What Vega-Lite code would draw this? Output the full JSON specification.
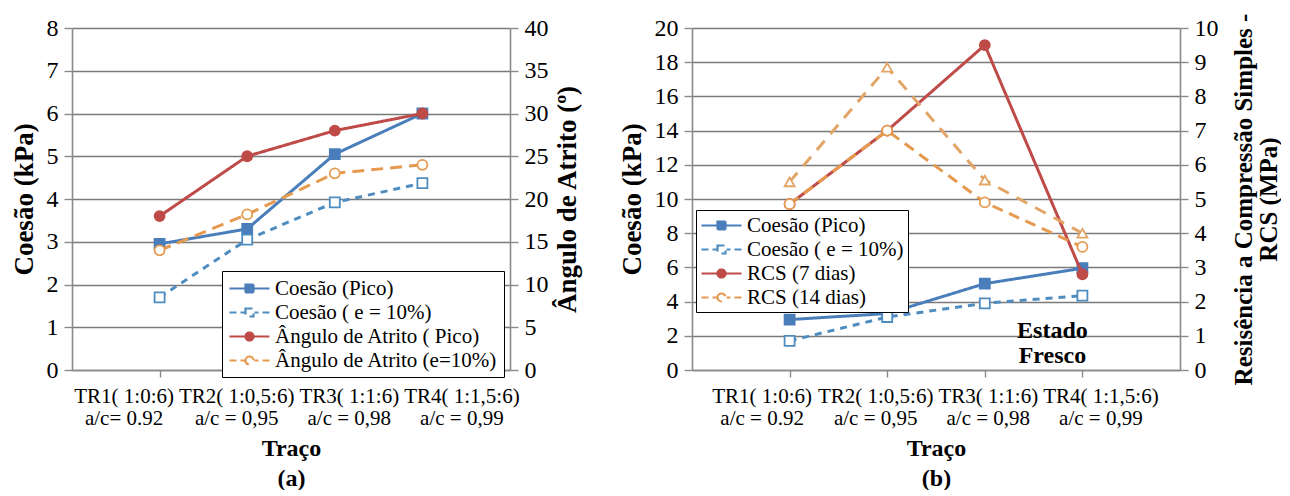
{
  "$schema": "https://vega.github.io/schema/vega-lite/v6.json",
  "padding": {"left": 10, "top": 13, "right": 0, "bottom": 0},
  "background": "white",
  "config": {
    "font": "Liberation Serif",
    "view": {"stroke": null},
    "axis": {"labelColor": "black", "titleColor": "black", "domainColor": "#8a8a8a", "tickColor": "#8a8a8a", "domainWidth": 1.6, "tickWidth": 1.4, "labelFont": "Liberation Serif", "titleFont": "Liberation Serif"},
    "axisY": {"labelFont": "Liberation Serif", "titleFont": "Liberation Serif"},
    "legend": {"labelFont": "Liberation Serif", "labelColor": "black"},
    "text": {"font": "Liberation Serif"}
  },
  "spacing": 38,
  "resolve": {"scale": {"color": "independent", "fill": "independent", "shape": "independent", "strokeDash": "independent"}, "legend": {"color": "independent", "fill": "independent", "shape": "independent"}},
  "hconcat": [
    {
      "width": 438,
      "height": 342,
      "data": {"values": [
        {"traco": "TR1( 1:0:6)|a/c= 0.92", "serie": "Coesão (Pico)", "eixo": "L", "valor": 2.95},
        {"traco": "TR2( 1:0,5:6)|a/c = 0,95", "serie": "Coesão (Pico)", "eixo": "L", "valor": 3.3},
        {"traco": "TR3( 1:1:6)|a/c = 0,98", "serie": "Coesão (Pico)", "eixo": "L", "valor": 5.05},
        {"traco": "TR4( 1:1,5:6)|a/c = 0,99", "serie": "Coesão (Pico)", "eixo": "L", "valor": 6.0},
        {"traco": "TR1( 1:0:6)|a/c= 0.92", "serie": "Coesão ( e = 10%)", "eixo": "L", "valor": 1.7},
        {"traco": "TR2( 1:0,5:6)|a/c = 0,95", "serie": "Coesão ( e = 10%)", "eixo": "L", "valor": 3.05},
        {"traco": "TR3( 1:1:6)|a/c = 0,98", "serie": "Coesão ( e = 10%)", "eixo": "L", "valor": 3.92},
        {"traco": "TR4( 1:1,5:6)|a/c = 0,99", "serie": "Coesão ( e = 10%)", "eixo": "L", "valor": 4.37},
        {"traco": "TR1( 1:0:6)|a/c= 0.92", "serie": "Ângulo de Atrito ( Pico)", "eixo": "R", "valor": 18},
        {"traco": "TR2( 1:0,5:6)|a/c = 0,95", "serie": "Ângulo de Atrito ( Pico)", "eixo": "R", "valor": 25},
        {"traco": "TR3( 1:1:6)|a/c = 0,98", "serie": "Ângulo de Atrito ( Pico)", "eixo": "R", "valor": 28},
        {"traco": "TR4( 1:1,5:6)|a/c = 0,99", "serie": "Ângulo de Atrito ( Pico)", "eixo": "R", "valor": 30},
        {"traco": "TR1( 1:0:6)|a/c= 0.92", "serie": "Ângulo de Atrito (e=10%)", "eixo": "R", "valor": 14},
        {"traco": "TR2( 1:0,5:6)|a/c = 0,95", "serie": "Ângulo de Atrito (e=10%)", "eixo": "R", "valor": 18.2},
        {"traco": "TR3( 1:1:6)|a/c = 0,98", "serie": "Ângulo de Atrito (e=10%)", "eixo": "R", "valor": 23},
        {"traco": "TR4( 1:1,5:6)|a/c = 0,99", "serie": "Ângulo de Atrito (e=10%)", "eixo": "R", "valor": 24}
      ]},
      "encoding": {
        "x": {"field": "traco", "type": "nominal", "sort": null, "scale": {"type": "point", "padding": 1},
          "axis": {"labelExpr": "split(datum.label, '|')", "labelFont": "Liberation Serif", "labelFontSize": 21, "labelLineHeight": 22, "labelAngle": 0, "labelPadding": 8, "labelOverlap": false, "labelLimit": 0, "tickSize": 7,
            "labelOffset": {"condition": [{"test": "indexof(datum.value, 'TR1') == 0", "value": -36}, {"test": "indexof(datum.value, 'TR2') == 0", "value": -11}, {"test": "indexof(datum.value, 'TR3') == 0", "value": 14}], "value": 39},
            "title": ["Traço", "(a)"], "titleFont": "Liberation Serif", "titleFontSize": 24, "titleFontWeight": "bold", "titleLineHeight": 30, "titlePadding": 8, "grid": false}}
      },
      "layer": [
        {
          "transform": [{"filter": "datum.eixo == 'legenda'"}],
          "mark": {"type": "point", "filled": false, "strokeWidth": 2.2, "opacity": 1},
          "encoding": {
            "color": {"field": "serie", "type": "nominal",
              "scale": {"domain": ["Coesão (Pico)", "Coesão ( e = 10%)", "Ângulo de Atrito ( Pico)", "Ângulo de Atrito (e=10%)"], "range": ["#4a7ebb", "#4f8cc0", "#be4b48", "#e69a4f"]},
              "legend": {"orient": "none", "legendX": 150, "legendY": 243, "title": null, "direction": "vertical", "strokeColor": "black", "fillColor": "white", "padding": 6, "labelFont": "Liberation Serif", "labelFontSize": 21, "labelOffset": 24, "labelLimit": 400, "rowPadding": 2, "symbolSize": 400, "symbolStrokeWidth": 2.2, "symbolOpacity": 1}},
            "shape": {"field": "serie", "type": "nominal",
              "scale": {"domain": ["Coesão (Pico)", "Coesão ( e = 10%)", "Ângulo de Atrito ( Pico)", "Ângulo de Atrito (e=10%)"], "range": ["M-1,0H3M0.6,-0.4H1.4V0.4H0.6Z", "M-1,0H-0.3M0.1,0H0.5M1.5,0H1.9M2.3,0H3M0.6,-0.4H1.4V0.4H0.6Z", "M-1,0H3M0.6,0A0.4,0.4,0,1,1,1.4,0A0.4,0.4,0,1,1,0.6,0Z", "M-1,0H-0.3M0.1,0H0.5M1.5,0H1.9M2.3,0H3M0.6,0A0.4,0.4,0,1,1,1.4,0A0.4,0.4,0,1,1,0.6,0Z"]},
              "legend": {"orient": "none", "legendX": 150, "legendY": 243, "title": null, "direction": "vertical", "strokeColor": "black", "fillColor": "white", "padding": 6, "labelFont": "Liberation Serif", "labelFontSize": 21, "labelOffset": 24, "labelLimit": 400, "rowPadding": 2, "symbolSize": 400, "symbolStrokeWidth": 2.2, "symbolOpacity": 1}},
            "fill": {"field": "serie", "type": "nominal",
              "scale": {"domain": ["Coesão (Pico)", "Coesão ( e = 10%)", "Ângulo de Atrito ( Pico)", "Ângulo de Atrito (e=10%)"], "range": ["#4a7ebb", "white", "#be4b48", "white"]},
              "legend": {"orient": "none", "legendX": 150, "legendY": 243, "title": null, "direction": "vertical", "strokeColor": "black", "fillColor": "white", "padding": 6, "labelFont": "Liberation Serif", "labelFontSize": 21, "labelOffset": 24, "labelLimit": 400, "rowPadding": 2, "symbolSize": 400, "symbolStrokeWidth": 2.2, "symbolOpacity": 1}}
          }
        },
        {
          "transform": [{"filter": "datum.eixo == 'L'"}],
          "encoding": {"y": {"field": "valor", "type": "quantitative", "scale": {"domain": [0, 8], "nice": false},
            "axis": {"orient": "left", "values": [0, 1, 2, 3, 4, 5, 6, 7, 8], "title": "Coesão (kPa)", "grid": true, "gridColor": "#7a7a7a", "gridWidth": 1.5, "tickSize": 8, "labelFont": "Liberation Serif", "labelFontSize": 24, "labelPadding": 6, "titleFont": "Liberation Serif", "titleFontSize": 27, "titleFontWeight": "bold", "titlePadding": 8}}},
          "layer": [
            {"mark": {"type": "line", "strokeWidth": 3},
             "encoding": {
               "color": {"field": "serie", "type": "nominal", "legend": null,
                 "scale": {"domain": ["Coesão (Pico)", "Coesão ( e = 10%)", "Ângulo de Atrito ( Pico)", "Ângulo de Atrito (e=10%)"], "range": ["#4a7ebb", "#4f8cc0", "#be4b48", "#e69a4f"]}},
               "strokeDash": {"field": "serie", "type": "nominal", "legend": null,
                 "scale": {"domain": ["Coesão (Pico)", "Coesão ( e = 10%)", "Ângulo de Atrito ( Pico)", "Ângulo de Atrito (e=10%)"], "range": [[1, 0], [7, 6], [1, 0], [12, 7]]}}
             }},
            {"mark": {"type": "point", "shape": "square", "size": 100, "filled": false, "strokeWidth": 1.8, "opacity": 1},
             "encoding": {
               "color": {"field": "serie", "type": "nominal", "legend": null, "scale": {"domain": ["Coesão (Pico)", "Coesão ( e = 10%)", "Ângulo de Atrito ( Pico)", "Ângulo de Atrito (e=10%)"], "range": ["#4a7ebb", "#4f8cc0", "#be4b48", "#e69a4f"]}},
               "fill": {"field": "serie", "type": "nominal", "legend": null, "scale": {"domain": ["Coesão (Pico)", "Coesão ( e = 10%)", "Ângulo de Atrito ( Pico)", "Ângulo de Atrito (e=10%)"], "range": ["#4a7ebb", "white", "#be4b48", "white"]}}
             }}
          ]
        },
        {
          "transform": [{"filter": "datum.eixo == 'R'"}],
          "encoding": {"y": {"field": "valor", "type": "quantitative", "scale": {"domain": [0, 40], "nice": false},
            "axis": {"orient": "right", "values": [0, 5, 10, 15, 20, 25, 30, 35, 40], "title": "Ângulo de Atrito (º)", "titleAngle": 270, "titleBaseline": "top", "grid": false, "tickSize": 8, "labelFont": "Liberation Serif", "labelFontSize": 24, "labelPadding": 6, "titleFont": "Liberation Serif", "titleFontSize": 27, "titleFontWeight": "bold", "titlePadding": 6}}},
          "layer": [
            {"mark": {"type": "line", "strokeWidth": 3},
             "encoding": {
               "color": {"field": "serie", "type": "nominal", "legend": null,
                 "scale": {"domain": ["Coesão (Pico)", "Coesão ( e = 10%)", "Ângulo de Atrito ( Pico)", "Ângulo de Atrito (e=10%)"], "range": ["#4a7ebb", "#4f8cc0", "#be4b48", "#e69a4f"]}},
               "strokeDash": {"field": "serie", "type": "nominal", "legend": null,
                 "scale": {"domain": ["Coesão (Pico)", "Coesão ( e = 10%)", "Ângulo de Atrito ( Pico)", "Ângulo de Atrito (e=10%)"], "range": [[1, 0], [7, 6], [1, 0], [12, 7]]}}
             }},
            {"mark": {"type": "point", "shape": "circle", "size": 100, "filled": false, "strokeWidth": 1.8, "opacity": 1},
             "encoding": {
               "color": {"field": "serie", "type": "nominal", "legend": null, "scale": {"domain": ["Coesão (Pico)", "Coesão ( e = 10%)", "Ângulo de Atrito ( Pico)", "Ângulo de Atrito (e=10%)"], "range": ["#4a7ebb", "#4f8cc0", "#be4b48", "#e69a4f"]}},
               "fill": {"field": "serie", "type": "nominal", "legend": null, "scale": {"domain": ["Coesão (Pico)", "Coesão ( e = 10%)", "Ângulo de Atrito ( Pico)", "Ângulo de Atrito (e=10%)"], "range": ["#4a7ebb", "white", "#be4b48", "white"]}}
             }}
          ]
        }
      ],
      "resolve": {"scale": {"y": "independent"}}
    },
    {
      "width": 488,
      "height": 342,
      "data": {"values": [
        {"traco": "TR1( 1:0:6)|a/c = 0.92", "serie": "Coesão (Pico)", "eixo": "L", "valor": 2.95},
        {"traco": "TR2( 1:0,5:6)|a/c = 0,95", "serie": "Coesão (Pico)", "eixo": "L", "valor": 3.3},
        {"traco": "TR3( 1:1:6)|a/c = 0,98", "serie": "Coesão (Pico)", "eixo": "L", "valor": 5.05},
        {"traco": "TR4( 1:1,5:6)|a/c = 0,99", "serie": "Coesão (Pico)", "eixo": "L", "valor": 5.95},
        {"traco": "TR1( 1:0:6)|a/c = 0.92", "serie": "Coesão ( e = 10%)", "eixo": "L", "valor": 1.7},
        {"traco": "TR2( 1:0,5:6)|a/c = 0,95", "serie": "Coesão ( e = 10%)", "eixo": "L", "valor": 3.1},
        {"traco": "TR3( 1:1:6)|a/c = 0,98", "serie": "Coesão ( e = 10%)", "eixo": "L", "valor": 3.9},
        {"traco": "TR4( 1:1,5:6)|a/c = 0,99", "serie": "Coesão ( e = 10%)", "eixo": "L", "valor": 4.35},
        {"traco": "TR1( 1:0:6)|a/c = 0.92", "serie": "RCS (7 dias)", "eixo": "R", "valor": 4.85},
        {"traco": "TR2( 1:0,5:6)|a/c = 0,95", "serie": "RCS (7 dias)", "eixo": "R", "valor": 7.0},
        {"traco": "TR3( 1:1:6)|a/c = 0,98", "serie": "RCS (7 dias)", "eixo": "R", "valor": 9.5},
        {"traco": "TR4( 1:1,5:6)|a/c = 0,99", "serie": "RCS (7 dias)", "eixo": "R", "valor": 2.8},
        {"traco": "TR1( 1:0:6)|a/c = 0.92", "serie": "RCS (14 dias)", "eixo": "R", "valor": 4.85},
        {"traco": "TR2( 1:0,5:6)|a/c = 0,95", "serie": "RCS (14 dias)", "eixo": "R", "valor": 7.0},
        {"traco": "TR3( 1:1:6)|a/c = 0,98", "serie": "RCS (14 dias)", "eixo": "R", "valor": 4.9},
        {"traco": "TR4( 1:1,5:6)|a/c = 0,99", "serie": "RCS (14 dias)", "eixo": "R", "valor": 3.6},
        {"traco": "TR1( 1:0:6)|a/c = 0.92", "serie": "RCS (14 dias) b", "eixo": "R", "valor": 5.5},
        {"traco": "TR2( 1:0,5:6)|a/c = 0,95", "serie": "RCS (14 dias) b", "eixo": "R", "valor": 8.85},
        {"traco": "TR3( 1:1:6)|a/c = 0,98", "serie": "RCS (14 dias) b", "eixo": "R", "valor": 5.55},
        {"traco": "TR4( 1:1,5:6)|a/c = 0,99", "serie": "RCS (14 dias) b", "eixo": "R", "valor": 4.0},
        {"traco": "TR4( 1:1,5:6)|a/c = 0,99", "serie": "nota", "eixo": "T", "valor": 2.3, "rotulo": "Estado\nFresco"}
      ]},
      "encoding": {
        "x": {"field": "traco", "type": "nominal", "sort": null, "scale": {"type": "point", "padding": 1},
          "axis": {"labelExpr": "split(datum.label, '|')", "labelFont": "Liberation Serif", "labelFontSize": 21, "labelLineHeight": 22, "labelAngle": 0, "labelPadding": 8, "labelOverlap": false, "labelLimit": 0, "tickSize": 7,
            "labelOffset": {"condition": [{"test": "indexof(datum.value, 'TR1') == 0", "value": -28}, {"test": "indexof(datum.value, 'TR2') == 0", "value": -12}, {"test": "indexof(datum.value, 'TR3') == 0", "value": 3}], "value": 18},
            "title": ["Traço", "(b)"], "titleFont": "Liberation Serif", "titleFontSize": 24, "titleFontWeight": "bold", "titleLineHeight": 30, "titlePadding": 8, "grid": false}}
      },
      "layer": [
        {
          "transform": [{"filter": "datum.eixo == 'legenda'"}],
          "mark": {"type": "point", "filled": false, "strokeWidth": 2.2, "opacity": 1},
          "encoding": {
            "color": {"field": "serie", "type": "nominal",
              "scale": {"domain": ["Coesão (Pico)", "Coesão ( e = 10%)", "RCS (7 dias)", "RCS (14 dias)", "RCS (14 dias) b"], "range": ["#4a7ebb", "#4f8cc0", "#be4b48", "#e69a4f", "#e3a566"]},
              "legend": {"orient": "none", "legendX": 4, "legendY": 182, "title": null, "direction": "vertical", "values": ["Coesão (Pico)", "Coesão ( e = 10%)", "RCS (7 dias)", "RCS (14 dias)"], "strokeColor": "black", "fillColor": "white", "padding": 4, "labelFont": "Liberation Serif", "labelFontSize": 21, "labelOffset": 24, "labelLimit": 400, "rowPadding": 2, "symbolSize": 400, "symbolStrokeWidth": 2.2, "symbolOpacity": 1}},
            "shape": {"field": "serie", "type": "nominal",
              "scale": {"domain": ["Coesão (Pico)", "Coesão ( e = 10%)", "RCS (7 dias)", "RCS (14 dias)", "RCS (14 dias) b"], "range": ["M-1,0H3M0.6,-0.4H1.4V0.4H0.6Z", "M-1,0H-0.3M0.1,0H0.5M1.5,0H1.9M2.3,0H3M0.6,-0.4H1.4V0.4H0.6Z", "M-1,0H3M0.6,0A0.4,0.4,0,1,1,1.4,0A0.4,0.4,0,1,1,0.6,0Z", "M-1,0H-0.3M0.1,0H0.5M1.5,0H1.9M2.3,0H3M0.6,0A0.4,0.4,0,1,1,1.4,0A0.4,0.4,0,1,1,0.6,0Z", "triangle-up"]},
              "legend": {"orient": "none", "legendX": 4, "legendY": 182, "title": null, "direction": "vertical", "values": ["Coesão (Pico)", "Coesão ( e = 10%)", "RCS (7 dias)", "RCS (14 dias)"], "strokeColor": "black", "fillColor": "white", "padding": 4, "labelFont": "Liberation Serif", "labelFontSize": 21, "labelOffset": 24, "labelLimit": 400, "rowPadding": 2, "symbolSize": 400, "symbolStrokeWidth": 2.2, "symbolOpacity": 1}},
            "fill": {"field": "serie", "type": "nominal",
              "scale": {"domain": ["Coesão (Pico)", "Coesão ( e = 10%)", "RCS (7 dias)", "RCS (14 dias)", "RCS (14 dias) b"], "range": ["#4a7ebb", "white", "#be4b48", "white", "white"]},
              "legend": {"orient": "none", "legendX": 4, "legendY": 182, "title": null, "direction": "vertical", "values": ["Coesão (Pico)", "Coesão ( e = 10%)", "RCS (7 dias)", "RCS (14 dias)"], "strokeColor": "black", "fillColor": "white", "padding": 4, "labelFont": "Liberation Serif", "labelFontSize": 21, "labelOffset": 24, "labelLimit": 400, "rowPadding": 2, "symbolSize": 400, "symbolStrokeWidth": 2.2, "symbolOpacity": 1}}
          }
        },
        {
          "transform": [{"filter": "datum.eixo == 'L' || datum.eixo == 'T'"}],
          "encoding": {"y": {"field": "valor", "type": "quantitative", "scale": {"domain": [0, 20], "nice": false},
            "axis": {"orient": "left", "values": [0, 2, 4, 6, 8, 10, 12, 14, 16, 18, 20], "title": "Coesão (kPa)", "grid": true, "gridColor": "#7a7a7a", "gridWidth": 1.5, "tickSize": 8, "labelFont": "Liberation Serif", "labelFontSize": 24, "labelPadding": 6, "titleFont": "Liberation Serif", "titleFontSize": 27, "titleFontWeight": "bold", "titlePadding": 8}}},
          "layer": [
            {"transform": [{"filter": "datum.eixo == 'L'"}],
             "mark": {"type": "line", "strokeWidth": 3},
             "encoding": {
               "color": {"field": "serie", "type": "nominal", "legend": null,
                 "scale": {"domain": ["Coesão (Pico)", "Coesão ( e = 10%)", "RCS (7 dias)", "RCS (14 dias)", "RCS (14 dias) b"], "range": ["#4a7ebb", "#4f8cc0", "#be4b48", "#e69a4f", "#e3a566"]}},
               "strokeDash": {"field": "serie", "type": "nominal", "legend": null,
                 "scale": {"domain": ["Coesão (Pico)", "Coesão ( e = 10%)", "RCS (7 dias)", "RCS (14 dias)", "RCS (14 dias) b"], "range": [[1, 0], [7, 6], [1, 0], [11, 7], [12, 9]]}}
             }},
            {"transform": [{"filter": "datum.eixo == 'L'"}],
             "mark": {"type": "point", "shape": "square", "size": 100, "filled": false, "strokeWidth": 1.8, "opacity": 1},
             "encoding": {
               "color": {"field": "serie", "type": "nominal", "legend": null, "scale": {"domain": ["Coesão (Pico)", "Coesão ( e = 10%)", "RCS (7 dias)", "RCS (14 dias)", "RCS (14 dias) b"], "range": ["#4a7ebb", "#4f8cc0", "#be4b48", "#e69a4f", "#e3a566"]}},
               "fill": {"field": "serie", "type": "nominal", "legend": null, "scale": {"domain": ["Coesão (Pico)", "Coesão ( e = 10%)", "RCS (7 dias)", "RCS (14 dias)", "RCS (14 dias) b"], "range": ["#4a7ebb", "white", "#be4b48", "white", "white"]}}
             }},
            {"transform": [{"filter": "datum.eixo == 'T'"}],
             "mark": {"type": "text", "font": "Liberation Serif", "fontSize": 24, "fontWeight": "bold", "lineBreak": "\n", "lineHeight": 25, "dx": -30, "align": "center", "baseline": "middle", "color": "black"},
             "encoding": {"text": {"field": "rotulo"}}}
          ]
        },
        {
          "transform": [{"filter": "datum.eixo == 'R'"}],
          "encoding": {"y": {"field": "valor", "type": "quantitative", "scale": {"domain": [0, 10], "nice": false},
            "axis": {"orient": "right", "values": [0, 1, 2, 3, 4, 5, 6, 7, 8, 9, 10], "title": ["Resisência a Compressão Simples -", "RCS (MPa)"], "titleAngle": 270, "titleBaseline": "top", "titleLineHeight": 25, "grid": false, "tickSize": 8, "labelFont": "Liberation Serif", "labelFontSize": 24, "labelPadding": 6, "titleFont": "Liberation Serif", "titleFontSize": 25, "titleFontWeight": "bold", "titlePadding": -12}}},
          "layer": [
            {"mark": {"type": "line", "strokeWidth": 3},
             "encoding": {
               "color": {"field": "serie", "type": "nominal", "legend": null,
                 "scale": {"domain": ["Coesão (Pico)", "Coesão ( e = 10%)", "RCS (7 dias)", "RCS (14 dias)", "RCS (14 dias) b"], "range": ["#4a7ebb", "#4f8cc0", "#be4b48", "#e69a4f", "#e3a566"]}},
               "strokeDash": {"field": "serie", "type": "nominal", "legend": null,
                 "scale": {"domain": ["Coesão (Pico)", "Coesão ( e = 10%)", "RCS (7 dias)", "RCS (14 dias)", "RCS (14 dias) b"], "range": [[1, 0], [7, 6], [1, 0], [11, 7], [12, 9]]}}
             }},
            {"transform": [{"filter": "datum.serie != 'RCS (14 dias) b'"}],
             "mark": {"type": "point", "shape": "circle", "size": 100, "filled": false, "strokeWidth": 1.8, "opacity": 1},
             "encoding": {
               "color": {"field": "serie", "type": "nominal", "legend": null, "scale": {"domain": ["Coesão (Pico)", "Coesão ( e = 10%)", "RCS (7 dias)", "RCS (14 dias)", "RCS (14 dias) b"], "range": ["#4a7ebb", "#4f8cc0", "#be4b48", "#e69a4f", "#e3a566"]}},
               "fill": {"field": "serie", "type": "nominal", "legend": null, "scale": {"domain": ["Coesão (Pico)", "Coesão ( e = 10%)", "RCS (7 dias)", "RCS (14 dias)", "RCS (14 dias) b"], "range": ["#4a7ebb", "white", "#be4b48", "white", "white"]}}
             }},
            {"transform": [{"filter": "datum.serie == 'RCS (14 dias) b'"}],
             "mark": {"type": "point", "shape": "triangle-up", "size": 100, "filled": false, "strokeWidth": 1.8, "opacity": 1},
             "encoding": {
               "color": {"field": "serie", "type": "nominal", "legend": null, "scale": {"domain": ["Coesão (Pico)", "Coesão ( e = 10%)", "RCS (7 dias)", "RCS (14 dias)", "RCS (14 dias) b"], "range": ["#4a7ebb", "#4f8cc0", "#be4b48", "#e69a4f", "#e3a566"]}},
               "fill": {"field": "serie", "type": "nominal", "legend": null, "scale": {"domain": ["Coesão (Pico)", "Coesão ( e = 10%)", "RCS (7 dias)", "RCS (14 dias)", "RCS (14 dias) b"], "range": ["#4a7ebb", "white", "#be4b48", "white", "white"]}}
             }}
          ]
        }
      ],
      "resolve": {"scale": {"y": "independent"}}
    }
  ]
}
